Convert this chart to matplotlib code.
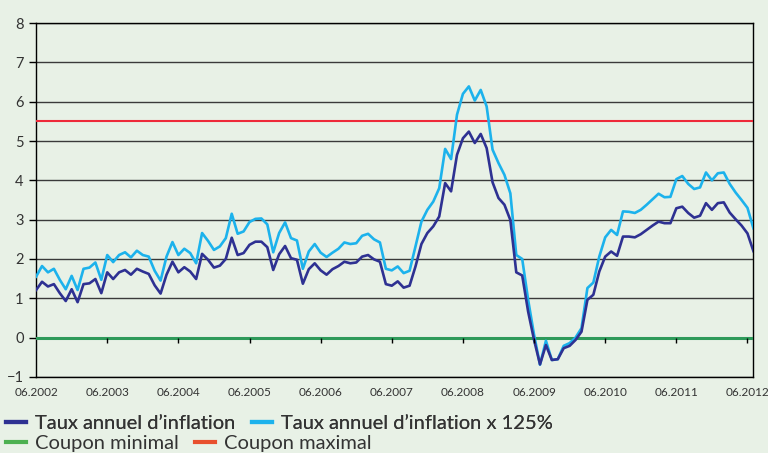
import matplotlib
matplotlib.use("Agg")
import matplotlib.pyplot as plt
from matplotlib.lines import Line2D
import numpy as np

# monthly values, 06.2002 -> 07.2012
inflation = [1.21, 1.42, 1.30, 1.36, 1.13, 0.93, 1.23, 0.90, 1.36, 1.38, 1.49, 1.13,
             1.66, 1.49, 1.66, 1.72, 1.60, 1.75, 1.68, 1.62, 1.33, 1.12, 1.60, 1.93,
             1.66, 1.79, 1.68, 1.49, 2.13, 1.98, 1.78, 1.83, 2.00, 2.54, 2.10, 2.15,
             2.36, 2.44, 2.44, 2.30, 1.72, 2.12, 2.33, 2.02, 1.98, 1.37, 1.74, 1.89,
             1.71, 1.60, 1.74, 1.82, 1.93, 1.89, 1.91, 2.06, 2.10, 1.99, 1.93, 1.36,
             1.32, 1.43, 1.27, 1.32, 1.81, 2.38, 2.66, 2.83, 3.08, 3.93, 3.72, 4.65,
             5.07, 5.24, 4.95, 5.18, 4.82, 3.95, 3.55, 3.38, 2.99, 1.66, 1.58, 0.66,
             -0.06, -0.68, -0.19, -0.57, -0.55, -0.27, -0.21, -0.06, 0.15, 0.96, 1.09, 1.68,
             2.06, 2.19, 2.08, 2.57, 2.57, 2.55, 2.63, 2.74, 2.85, 2.95, 2.91, 2.91,
             3.29, 3.33, 3.17, 3.05, 3.10, 3.42, 3.25, 3.42, 3.44, 3.18, 3.01, 2.85,
             2.65, 2.20]
inflation_125 = [1.55, 1.82, 1.66, 1.75, 1.47, 1.23, 1.57, 1.21, 1.75, 1.78, 1.91, 1.47,
                 2.10, 1.92, 2.10, 2.17, 2.04, 2.21, 2.10, 2.06, 1.70, 1.45, 2.06, 2.43,
                 2.10, 2.26, 2.15, 1.89, 2.66, 2.46, 2.23, 2.32, 2.53, 3.15, 2.64, 2.70,
                 2.94, 3.02, 3.03, 2.88, 2.17, 2.66, 2.93, 2.53, 2.47, 1.75, 2.19, 2.38,
                 2.16, 2.05, 2.16, 2.26, 2.42, 2.38, 2.40, 2.59, 2.64, 2.50, 2.42, 1.75,
                 1.71, 1.81, 1.64, 1.70, 2.32, 2.95, 3.25, 3.46, 3.80, 4.80, 4.54, 5.67,
                 6.20, 6.39, 6.03, 6.30, 5.88, 4.78, 4.44, 4.14, 3.67, 2.10, 2.00, 0.96,
                 0.07, -0.69, -0.08, -0.57, -0.55, -0.21, -0.14, 0.00, 0.24, 1.26, 1.40, 2.06,
                 2.55, 2.74, 2.61, 3.21, 3.20, 3.17, 3.25, 3.38, 3.52, 3.66, 3.57, 3.58,
                 4.03, 4.11, 3.91, 3.78, 3.82, 4.20, 4.00, 4.18, 4.20, 3.91, 3.69, 3.50,
                 3.30, 2.78]
coupon_min = 0.0
coupon_max = 5.5
year_labels = ["06.2002", "06.2003", "06.2004", "06.2005", "06.2006", "06.2007",
               "06.2008", "06.2009", "06.2010", "06.2011", "06.2012"]

bg = "#e8f1e6"
navy = "#2e3192"
cyan = "#1cb2ec"
green = "#2e9a5a"
red = "#ee2a3a"

plt.rcParams["font.family"] = ["Lato", "DejaVu Sans"]

fig = plt.figure(figsize=(7.68, 4.53), dpi=100, facecolor=bg)
ax = fig.add_axes([0.047, 0.168, 0.934, 0.781])
ax.set_facecolor(bg)

x = np.arange(len(inflation))
ax.axhline(coupon_max, color=red, lw=1.5, zorder=3)
ax.axhline(coupon_min, color=green, lw=2.2, zorder=3)
ax.plot(x, inflation_125, color=cyan, lw=1.9, zorder=4)
ax.plot(x, inflation, color=navy, lw=1.9, zorder=5)

ax.set_xlim(0, len(inflation) - 1)
ax.set_ylim(-1, 8)
ax.set_yticks(range(-1, 9))
ax.yaxis.grid(True, color="#3a3a3a", lw=1)
ax.set_axisbelow(True)
for s in ax.spines.values():
    s.set_color("black")
    s.set_linewidth(1)

tick_pos = np.arange(0, len(inflation), 12)
ax.set_xticks(tick_pos)
ax.set_xticklabels(year_labels)
ax.tick_params(axis="x", length=0, pad=7, labelsize=8.5, labelcolor="#333333")
ax.tick_params(axis="y", length=5, width=1, pad=4, labelsize=10.5, labelcolor="#333333")
# small category ticks sit on the zero line
ax.vlines(tick_pos[1:], -0.14, 0, color="black", lw=1, zorder=6)

h1 = [Line2D([], [], color=navy, lw=3), Line2D([], [], color=cyan, lw=3)]
h2 = [Line2D([], [], color="#4cb050", lw=3), Line2D([], [], color="#e8502e", lw=3)]
leg1 = fig.legend(h1, ["Taux annuel d’inflation", "Taux annuel d’inflation x 125%"],
                  loc="center left", bbox_to_anchor=(-0.016, 0.066), ncol=2, frameon=False,
                  fontsize=14.5, handlelength=1.0, handletextpad=0.45, columnspacing=0.8,
                  labelcolor="#333333")
fig.legend(h2, ["Coupon minimal", "Coupon maximal"],
           loc="center left", bbox_to_anchor=(-0.016, 0.020), ncol=2, frameon=False,
           fontsize=14.5, handlelength=1.0, handletextpad=0.45, columnspacing=0.8,
           labelcolor="#333333")
fig.add_artist(leg1)

fig.savefig("out.png", dpi=100, facecolor=bg)
